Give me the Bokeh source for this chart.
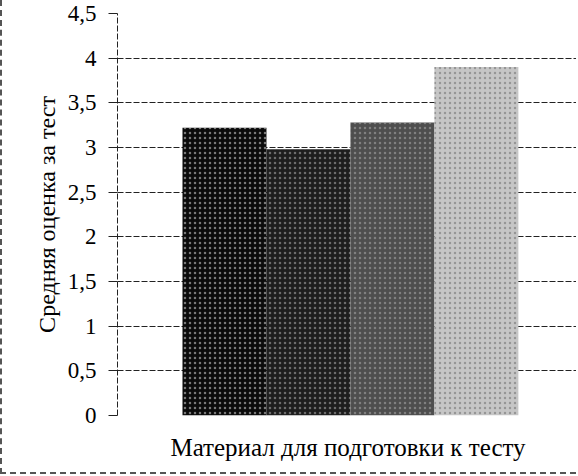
from bokeh.plotting import figure
from bokeh.models import Range1d, FixedTicker, ColumnDataSource
from bokeh.embed import file_html
from bokeh.resources import INLINE

# Data
series = ["Серия 1", "Серия 2", "Серия 3", "Серия 4"]
scores = [3.22, 2.98, 3.28, 3.9]
tick_values = [0, 0.5, 1, 1.5, 2, 2.5, 3, 3.5, 4, 4.5]
tick_labels = ["0", "0,5", "1", "1,5", "2", "2,5", "3", "3,5", "4", "4,5"]
x_title = "Материал для подготовки к тесту"
y_title = "Средняя оценка за тест"

# Styling
fills = ["#0b0b0b", "#1e1e1e", "#4e4e4e", "#c6c6c6"]
hatch_colors = ["#ffffff", "#cfcfcf", "#bdbdbd", "#5a5a5a"]
offset = 0.774 + 0.5
xs = [offset + i for i in range(len(series))]

src = ColumnDataSource(dict(x=xs, top=scores, fill=fills, hc=hatch_colors, name=series))

p = figure(width=576, height=474, output_backend="svg", toolbar_location=None,
           x_range=Range1d(0, 5.49), y_range=Range1d(0, 4.5),
           min_border_left=115, min_border_right=0, min_border_top=13, min_border_bottom=59,
           styles={"border-left": "2px dashed #555555", "border-bottom": "2px dashed #555555"})
p.outline_line_color = None
p.background_fill_color = "white"
p.border_fill_color = "white"

p.vbar(x="x", top="top", width=1.0, bottom=0, source=src, fill_color="fill",
       line_color=None, hatch_pattern="dot", hatch_color="hc", hatch_scale=5,
       hatch_weight=1, hatch_alpha=0.45)

serif = "Liberation Serif"

# y axis
p.yaxis.ticker = FixedTicker(ticks=tick_values)
p.yaxis.major_label_overrides = {v: l for v, l in zip(tick_values, tick_labels)}
p.yaxis.major_label_text_font = serif
p.yaxis.major_label_text_font_size = "23px"
p.yaxis.major_label_text_color = "black"
p.yaxis.major_tick_out = 9
p.yaxis.major_tick_in = 0
p.yaxis.minor_tick_line_color = None
p.yaxis.major_label_standoff = 12
p.yaxis.axis_line_color = "#222222"
p.yaxis.axis_line_dash = "6 2"
p.yaxis.major_tick_line_color = "#222222"
p.yaxis.axis_label = y_title
p.yaxis.axis_label_text_font = serif
p.yaxis.axis_label_text_font_size = "24px"
p.yaxis.axis_label_text_font_style = "normal"
p.yaxis.axis_label_text_color = "black"
p.yaxis.axis_label_standoff = 5

# x axis
p.xaxis.ticker = FixedTicker(ticks=[])
p.xaxis.axis_line_color = None
p.xaxis.major_tick_line_color = None
p.xaxis.minor_tick_line_color = None
p.xaxis.axis_label = x_title
p.xaxis.axis_label_text_font = serif
p.xaxis.axis_label_text_font_size = "25px"
p.xaxis.axis_label_text_font_style = "normal"
p.xaxis.axis_label_text_color = "black"
p.xaxis.axis_label_standoff = 18

# grid
p.xgrid.grid_line_color = None
p.ygrid.ticker = FixedTicker(ticks=tick_values)
p.ygrid.grid_line_color = "#222222"
p.ygrid.grid_line_dash = "6 2"
p.ygrid.grid_line_width = 1

open("out.html", "w").write(file_html(p, INLINE))
